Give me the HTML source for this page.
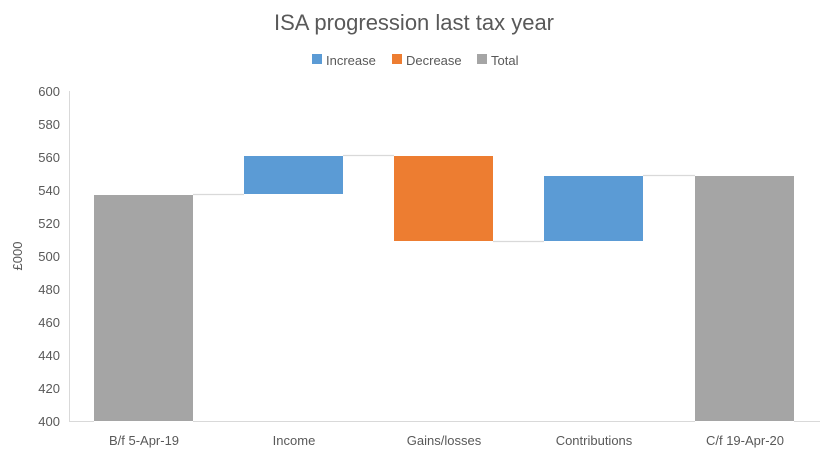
<!DOCTYPE html>
<html><head><style>
body{margin:0;background:#fff}
svg text{font-family:"Liberation Sans",sans-serif;fill:#595959}
</style></head><body>
<svg width="828" height="458" xmlns="http://www.w3.org/2000/svg">
<rect width="828" height="458" fill="#fff"/>
<text x="414" y="30" font-size="22" text-anchor="middle">ISA progression last tax year</text>
<rect x="312" y="54" width="10" height="10" fill="#5b9bd5"/><text x="326" y="65" font-size="13">Increase</text>
<rect x="392" y="54" width="10" height="10" fill="#ed7d31"/><text x="406" y="65" font-size="13">Decrease</text>
<rect x="477" y="54" width="10" height="10" fill="#a5a5a5"/><text x="491" y="65" font-size="13">Total</text>
<g font-size="13" text-anchor="end">
<text x="60" y="96">600</text><text x="60" y="129">580</text><text x="60" y="162">560</text><text x="60" y="195">540</text><text x="60" y="228">520</text><text x="60" y="261">500</text><text x="60" y="294">480</text><text x="60" y="327">460</text><text x="60" y="360">440</text><text x="60" y="393">420</text><text x="60" y="426">400</text>
</g>
<text transform="translate(22,256) rotate(-90)" font-size="13" text-anchor="middle">£000</text>
<line x1="69.5" y1="91" x2="69.5" y2="422" stroke="#d9d9d9"/>
<line x1="69" y1="421.5" x2="820" y2="421.5" stroke="#d9d9d9"/>
<rect x="94" y="195" width="99" height="227" fill="#a5a5a5"/>
<rect x="244" y="156" width="99" height="38" fill="#5b9bd5"/>
<rect x="394" y="156" width="99" height="85" fill="#ed7d31"/>
<rect x="544" y="176" width="99" height="65" fill="#5b9bd5"/>
<rect x="695" y="176" width="99" height="246" fill="#a5a5a5"/>
<line x1="94" y1="421.5" x2="193" y2="421.5" stroke="#fff"/>
<line x1="695" y1="421.5" x2="794" y2="421.5" stroke="#fff"/>
<g stroke="#d9d9d9" stroke-width="1.2">
<line x1="193" y1="194.5" x2="244" y2="194.5"/>
<line x1="343" y1="155.5" x2="394" y2="155.5"/>
<line x1="493" y1="241.5" x2="544" y2="241.5"/>
<line x1="643" y1="175.5" x2="695" y2="175.5"/>
</g>
<g font-size="13" text-anchor="middle">
<text x="144" y="445">B/f 5-Apr-19</text><text x="294" y="445">Income</text><text x="444" y="445">Gains/losses</text><text x="594" y="445">Contributions</text><text x="745" y="445">C/f 19-Apr-20</text>
</g>
</svg>
</body></html>
